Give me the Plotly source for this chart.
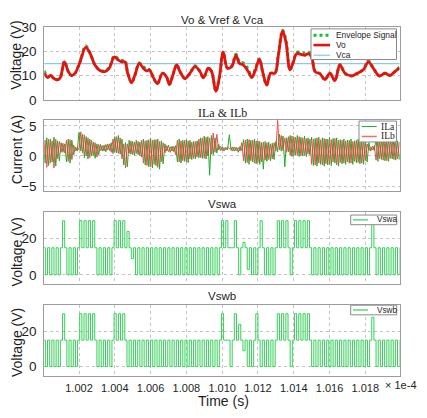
import numpy as np
import plotly.graph_objects as go

W, H = 427, 418

# ---- panel 1: Vo, envelope, Vca (time in units of 1e-4 s) ----
t_vo = [1.00006, 1.00025, 1.00042, 1.00057, 1.00075, 1.00094, 1.00118, 1.00140, 1.00159, 1.00178,
        1.00206, 1.00237, 1.00261, 1.00289, 1.00317, 1.00345, 1.00369, 1.00397, 1.00420, 1.00438,
        1.00457, 1.00472, 1.00494, 1.00513, 1.00537, 1.00559, 1.00578, 1.00593, 1.00615, 1.00638,
        1.00667, 1.00690, 1.00705, 1.00723, 1.00746, 1.00764, 1.00792, 1.00820, 1.00848, 1.00876,
        1.00895, 1.00923, 1.00941, 1.00965, 1.00984, 1.01006, 1.01029, 1.01053, 1.01077, 1.01096,
        1.01118, 1.01146, 1.01165, 1.01183, 1.01208, 1.01226, 1.01249, 1.01271, 1.01295, 1.01314,
        1.01338, 1.01357, 1.01379, 1.01398, 1.01416, 1.01444, 1.01463, 1.01481, 1.01500, 1.01519,
        1.01547, 1.01574, 1.01602, 1.01630, 1.01658, 1.01686, 1.01723, 1.01751, 1.01789, 1.01817,
        1.01844, 1.01878, 1.01910, 1.01938, 1.01965, 1.01990]
vo = [11.0, 9.3, 10.1, 9.0, 8.3, 9.0, 15.7, 11.7, 10.0, 11.0,
      15.7, 21.7, 19.3, 14.4, 12.1, 11.7, 13.1, 17.7, 16.4, 15.7,
      15.7, 11.0, 7.1, 10.4, 15.1, 13.1, 12.0, 12.4, 9.3, 6.7,
      11.0, 9.3, 6.4, 9.9, 14.4, 11.7, 8.8, 11.0, 13.7, 11.7,
      9.1, 13.1, 11.7, 3.5, 9.1, 19.7, 13.1, 13.7, 18.4, 15.1,
      14.4, 11.7, 9.3, 11.7, 16.8, 11.7, 6.1, 11.0, 11.0, 18.4,
      28.4, 23.7, 12.4, 15.7, 19.1, 18.7, 18.4, 19.1, 17.7, 11.7,
      10.7, 8.4, 11.0, 8.0, 14.4, 11.0, 9.9, 10.8, 12.4, 15.7,
      13.1, 9.9, 11.0, 10.1, 11.7, 13.1]
envelope = [12.0, 9.3, 10.1, 9.0, 8.3, 9.0, 15.9, 11.7, 10.0, 11.0,
            15.8, 22.3, 19.5, 14.4, 12.3, 11.9, 13.3, 18.1, 16.9, 16.3,
            16.2, 11.0, 7.1, 10.4, 15.2, 13.7, 12.8, 12.4, 9.3, 6.7,
            11.0, 9.3, 6.4, 9.9, 14.5, 11.7, 8.8, 11.0, 14.1, 11.7,
            9.1, 13.2, 11.7, 3.5, 9.1, 19.8, 13.1, 14.0, 18.8, 15.8,
            15.2, 12.5, 9.3, 12.4, 16.9, 11.7, 6.1, 11.0, 11.2, 18.8,
            28.8, 24.3, 12.4, 15.9, 19.6, 19.5, 19.3, 19.8, 17.9, 11.9,
            10.8, 8.4, 11.0, 8.0, 14.6, 11.0, 9.9, 10.8, 12.6, 16.1,
            13.2, 9.9, 11.0, 10.1, 11.7, 13.6]
t_vca = [1.0000, 1.0200]
vca = [15.0, 15.0]

# ---- panel 2: inductor currents, alternating ripple extremes ----
t_il_start, t_il_end = 1.0000, 1.0200
ila = [2.6, -1.2, 3.0, -1.6, 2.8, -1.0, 3.1, -1.7, 2.5, -0.8,
       2.2, 0.6, 2.0, -1.0, 2.8, -1.2, 2.6, 0.2, 1.5, 0.8,
       3.9, 0.8, 3.6, -0.3, 3.2, -0.5, 2.8, 0.0, 2.3, -0.4,
       2.0, 0.2, 1.9, 0.8, 1.8, 0.7, 2.0, 0.9, 2.2, 0.4,
       3.2, 0.5, 3.4, 0.3, 2.8, -1.5, 2.2, -1.8, 2.6, 0.3,
       2.4, 0.1, 2.6, 0.2, 2.3, -0.2, 2.8, -1.5, 2.6, -1.8,
       2.9, -2.0, 2.7, -1.6, 2.8, -2.2, 2.5, -1.3, 2.0, 0.8,
       1.8, 0.6, 1.6, 0.7, 1.7, -1.0, 2.8, -1.2, 2.6, -0.9,
       2.7, -1.1, 2.6, -0.6, 2.4, -0.5, 2.5, -0.3, 3.0, -0.4,
       3.3, -0.5, 3.2, -3.2, 3.4, 0.2, 3.0, 0.5, 2.0, 0.9,
       1.5, 0.8, 1.4, 1.0, 3.5, 0.9, 1.5, 0.8, 1.4, 0.6,
       1.6, 0.9, 2.7, -1.2, 2.8, -1.4, 2.6, -1.0, 2.8, -1.3,
       2.5, -1.4, 2.2, -2.2, 2.4, -0.9, 2.3, -0.8, 2.1, -0.6,
       2.4, 0.7, 3.6, 0.8, 3.3, -1.8, 3.0, 0.7, 3.4, -0.1,
       3.2, 0.1, 3.4, -0.1, 3.1, 0.0, 3.3, -0.1, 3.0, 0.2,
       3.1, -1.6, 2.9, -1.7, 3.1, -1.4, 3.0, -1.7, 2.8, -1.5,
       3.1, -1.6, 2.9, -1.2, 3.0, -1.7, 2.7, -1.3, 2.8, -1.4,
       2.6, -1.2, 2.8, -1.4, 2.5, -1.1, 2.8, -1.3, 2.6, -1.4,
       2.7, -1.0, 2.2, 0.8, 1.6, 0.9, 2.9, -0.9, 2.7, -0.6,
       2.9, -0.8, 2.6, -0.9, 2.8, -0.5, 2.9, -0.7, 2.5, -0.6,
       1.8]
ilb = [-0.8, 2.6, -1.9, 2.8, -1.2, 2.5, -2.0, 2.8, -0.5, 2.4,
       0.6, 2.1, 0.5, 2.6, -0.9, 2.7, -0.6, 1.8, 0.8, 1.4,
       1.0, 4.0, 0.5, 3.5, 0.0, 3.0, -0.3, 2.6, 0.1, 2.2,
       -0.2, 1.9, 0.9, 1.7, 0.8, 1.9, 1.0, 2.0, 0.6, 2.8,
       0.6, 3.2, 0.4, 3.0, -0.5, 2.0, -2.0, 2.0, 0.4, 2.5,
       0.2, 2.3, 0.4, 2.4, 0.0, 2.6, -1.2, 2.5, -1.6, 2.7,
       -1.8, 2.6, -1.4, 2.7, -1.9, 2.4, -1.0, 2.2, 0.5, 1.7,
       0.7, 1.5, 0.8, 1.6, 0.2, 2.6, -1.0, 2.5, -0.8, 2.6,
       -1.0, 2.5, -0.5, 2.3, -0.4, 2.4, -0.2, 2.8, -0.3, 3.0,
       -0.4, 3.1, 0.0, 3.0, 0.3, 3.8, 0.6, 3.6, 1.0, 1.6,
       0.9, 1.4, 1.0, 1.5, 1.2, 1.4, 0.8, 1.5, 0.9, 1.4,
       0.8, 2.2, -0.8, 2.6, -1.1, 2.7, -0.8, 2.6, -1.2, 2.5,
       -1.1, 2.4, -1.0, 2.3, -0.7, 2.2, -0.6, 2.0, -0.5, 2.2,
       0.8, 5.9, 1.0, 3.4, 0.9, 3.0, 0.6, 3.2, 0.1, 3.3,
       0.0, 3.1, 0.2, 3.2, 0.0, 3.0, 0.1, 2.9, 0.3, 2.8,
       -1.4, 2.8, -1.5, 3.0, -1.2, 2.7, -1.5, 2.9, -1.3, 2.8,
       -1.4, 2.7, -1.0, 2.9, -1.5, 2.6, -1.1, 2.6, -1.2, 2.5,
       -1.0, 2.6, -1.2, 2.4, -0.9, 2.6, -1.1, 2.4, -1.2, 2.5,
       -0.8, 2.0, 0.9, 1.5, 1.0, 1.7, -0.7, 2.7, -0.5, 2.6,
       -0.7, 2.7, -0.8, 2.5, -0.4, 2.7, -0.6, 2.4, -0.5, 2.3,
       0.5]

# ---- panels 3/4: switch-node voltages, one character per switching period ----
# '0' toggles 15/0, '1' stays at 15, '2' toggles 15/30, letters are partial steps
sw_start, sw_period = 1.0000, 0.00024
sw_levels = {"0": 0, "1": 15, "2": 30, "a": 24, "b": 9, "c": 18, "d": 3, "e": 28}
sw_rest = 15
vswa_code = ("0000" "2" "000" "2222" "0000" "222" "a" "b" + "0" * 20
             + "22" "1" "2" "0" "c" "d" "00" "2" "000" "222" "0" "2222" + "0" * 14 + "2" + "0" * 7)
vswb_code = ("0000" "2" "000" "2222" "0000" "222" + "0" * 22
             + "2" "1" "0" "2" "a" "b" "00" "2" "0000" "222" "0" "2222" + "0" * 14 + "e" + "0" * 7)

x_range = [1.00006, 1.01991]
x_ticks = [1.002, 1.004, 1.006, 1.008, 1.010, 1.012, 1.014, 1.016, 1.018]
x_ticktext = ["1.002", "1.004", "1.006", "1.008", "1.010", "1.012", "1.014", "1.016", "1.018"]

C_VO = "#e8110f"
C_ENV = "#1dbb3c"
C_VCA = "#8cc8ee"
C_ILA = "#1fae2a"
C_ILB = "#f03a3a"
C_SW = "#35cf5a"
GRID = "#c4c4c4"
FRAME = "#9c9c9c"
TXT = "#1e1e1e"
SANS = "Liberation Sans"
SERIF = "Liberation Serif"


def px(x):
    return x / W


def py(y):
    return 1 - y / H


def expand_sw(code):
    t, v = [], []
    for k, ch in enumerate(code):
        t += [sw_start + k * sw_period, sw_start + (k + 0.5) * sw_period]
        v += [sw_rest, sw_levels[ch]]
    return t, v


t_il = np.linspace(t_il_start, t_il_end, len(ila))
t_swa, v_swa = expand_sw(vswa_code)
t_swb, v_swb = expand_sw(vswb_code)

fig = go.Figure()

# panel 1
fig.add_trace(go.Scatter(x=t_vca, y=vca, mode="lines", line=dict(color=C_VCA, width=1.2),
                         xaxis="x", yaxis="y", name="Vca"))
fig.add_trace(go.Scatter(x=t_vo, y=envelope, mode="lines", line=dict(color=C_ENV, width=3, dash="dot", shape="spline"),
                         xaxis="x", yaxis="y", name="Envelope Signal"))
fig.add_trace(go.Scatter(x=t_vo, y=vo, mode="lines", line=dict(color=C_VO, width=2.8, shape="spline"),
                         xaxis="x", yaxis="y", name="Vo"))
# panel 2
fig.add_trace(go.Scatter(x=t_il, y=ila, mode="lines", line=dict(color=C_ILA, width=1),
                         xaxis="x2", yaxis="y2", name="ILa"))
fig.add_trace(go.Scatter(x=t_il, y=ilb, mode="lines", line=dict(color=C_ILB, width=1), opacity=0.9,
                         xaxis="x2", yaxis="y2", name="ILb"))
# panels 3, 4
fig.add_trace(go.Scatter(x=t_swa, y=v_swa, mode="lines", line=dict(color=C_SW, width=1, shape="hv"),
                         xaxis="x3", yaxis="y3", name="Vswa"))
fig.add_trace(go.Scatter(x=t_swb, y=v_swb, mode="lines", line=dict(color=C_SW, width=1, shape="hv"),
                         xaxis="x4", yaxis="y4", name="Vswb"))

x_dom = [px(44.3), px(399.5)]
y_doms = [[py(96.3), py(21.0)], [py(191.0), py(117.3)], [py(287.3), py(212.3)], [py(382.3), py(309.0)]]
y_ranges = [[0, 30], [-5.85, 5.95], [-5.1, 35], [-5.1, 35]]
y_tickvals = [[0, 10, 20, 30], [-5, 0, 5], [0, 20], [0, 20]]

layout = dict(width=W, height=H, autosize=False, showlegend=False,
              margin=dict(l=0, r=0, t=0, b=0),
              paper_bgcolor="white", plot_bgcolor="white",
              font=dict(family=SANS, color=TXT))
for i in range(4):
    sfx = "" if i == 0 else str(i + 1)
    layout["xaxis" + sfx] = dict(domain=x_dom, range=x_range, anchor="y" + sfx,
                                 tickvals=x_ticks, ticktext=x_ticktext, showticklabels=(i == 3),
                                 ticks="", ticklabelstandoff=2, tickfont=dict(size=11, family=SANS),
                                 showgrid=True, gridcolor=GRID, griddash="dot", gridwidth=1,
                                 showline=True, linecolor=FRAME, linewidth=1, mirror=True, zeroline=False)
    layout["yaxis" + sfx] = dict(domain=y_doms[i], range=y_ranges[i], anchor="x" + sfx,
                                 tickvals=y_tickvals[i], ticks="", ticklabelstandoff=4,
                                 tickfont=dict(size=13.5, family=SANS),
                                 showgrid=True, gridcolor=GRID, griddash="dot", gridwidth=1,
                                 showline=True, linecolor=FRAME, linewidth=1, mirror=True, zeroline=False)
fig.update_layout(**layout)

annotations = []
shapes = []


def text(x, y, s, size, family=SANS, angle=0, xanchor="center"):
    annotations.append(dict(x=px(x), y=py(y), xref="paper", yref="paper", text=s, showarrow=False,
                            textangle=angle, xanchor=xanchor, yanchor="middle",
                            font=dict(size=size, family=family, color=TXT)))


# panel titles
text(222, 13.5, "Vo &amp; Vref &amp; Vca", 11.5)
text(222, 110, "ILa &amp; ILb", 12, SERIF)
text(222, 204.5, "Vswa", 11.5)
text(222, 299.5, "Vswb", 11.5)
# y axis titles
text(16.5, 50, "Voltage (V)", 14, angle=-90)
text(16.5, 148, "Current (A)", 14, angle=-90)
text(16.5, 254, "Voltage (V)", 14, angle=-90)
text(16.5, 348, "Voltage (V)", 14, angle=-90)
# x axis title and exponent
text(223, 408.5, "Time (s)", 14)
text(382.5, 392.5, "× 1e-4", 11, xanchor="left")

# legends: (box, line x0, line x1, text x, entries)
legends = [
    ((311, 22.7, 396.5, 54.5), 313.5, 330, 333.5,
     [("Envelope Signal", C_ENV, 3, "dot", 29.3, SANS, 8.4),
      ("Vo", C_VO, 2.6, "solid", 39.5, SANS, 8.4),
      ("Vca", C_VCA, 1.2, "solid", 50.0, SANS, 8.4)]),
    ((359, 118.3, 396.5, 140), 361.7, 376.7, 378.5,
     [("ILa", C_ILA, 1, "solid", 124.0, SERIF, 9.5),
      ("ILb", "#f46c6c", 1.5, "solid", 134.3, SERIF, 9.5)]),
    ((350.7, 215.8, 396.7, 225.8), 353, 368, 374.5,
     [("Vswa", C_SW, 1.2, "solid", 220.8, SANS, 8.2)]),
    ((350.7, 309.3, 396.7, 319.3), 353, 368, 374.5,
     [("Vswb", C_SW, 1.2, "solid", 314.3, SANS, 8.2)]),
]
for box, lx0, lx1, tx, entries in legends:
    shapes.append(dict(type="rect", xref="paper", yref="paper", x0=px(box[0]), x1=px(box[2]),
                       y0=py(box[3]), y1=py(box[1]), line=dict(color="#8a8a8a", width=1),
                       fillcolor="white", layer="above"))
    for label, col, lw, dash, yy, fam, fs in entries:
        shapes.append(dict(type="line", xref="paper", yref="paper", x0=px(lx0), x1=px(lx1),
                           y0=py(yy), y1=py(yy), line=dict(color=col, width=lw, dash=dash), layer="above"))
        text(tx, yy, label, fs, fam, xanchor="left")

fig.update_layout(annotations=annotations, shapes=shapes)
# the page must not add its own 8px body margin around the 427x418 figure
fig.write_html("out.html", config={"displayModeBar": False},
               post_script="document.body.style.margin='0';document.body.style.overflow='hidden';")
